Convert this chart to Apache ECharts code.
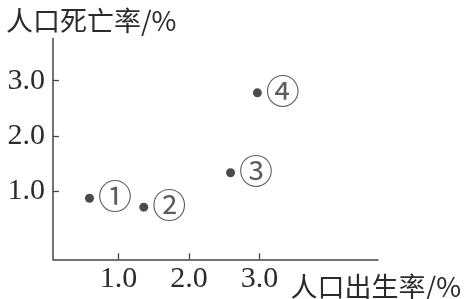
<!DOCTYPE html>
<html>
<head>
<meta charset="utf-8">
<script src="https://cdn.jsdelivr.net/npm/echarts@6/dist/echarts.min.js"></script>
<style>
html,body{margin:0;padding:0;background:#fff;}
#chart{width:470px;height:299px;}
</style>
</head>
<body>
<div id="chart"></div>
<script>
// Data
const pointNames = ['①', '②', '③', '④'];
const birthRate = [0.59, 1.36, 2.59, 2.97];   // x: 人口出生率 /%
const deathRate = [0.88, 0.72, 1.34, 2.78];   // y: 人口死亡率 /%
const xTicks = [1, 2, 3];
const yTicks = [1, 2, 3];
const xTitle = '人口出生率/%';
const yTitle = '人口死亡率/%';

const ink = '#2b2b2b';
const cjk = '"Noto Sans CJK SC", sans-serif';
const serif = '"Liberation Serif", "DejaVu Serif", serif';

const chart = echarts.init(document.getElementById('chart'), null, {renderer: 'canvas'});
chart.setOption({
  backgroundColor: '#ffffff',
  animation: false,
  title: [
    {text: yTitle, left: 1, top: 2, textStyle: {fontFamily: cjk, fontSize: 27, fontWeight: 'normal', color: ink}},
    {text: xTitle, right: 4, top: 268, textStyle: {fontFamily: cjk, fontSize: 27, fontWeight: 'normal', color: ink}}
  ],
  grid: {left: 53, top: 38.5, right: 92, bottom: 39.7, containLabel: false},
  xAxis: {
    type: 'value', min: 0.073, max: 4.68,
    splitLine: {show: false},
    axisLine: {show: true, onZero: false, lineStyle: {color: '#444', width: 1.5}},
    axisTick: {show: true, inside: true, length: 6, customValues: xTicks, lineStyle: {color: '#444', width: 1.3}},
    axisLabel: {customValues: xTicks, formatter: v => v.toFixed(1), fontFamily: serif, fontSize: 30, color: ink, margin: 5}
  },
  yAxis: {
    type: 'value', min: -0.22, max: 3.76,
    splitLine: {show: false},
    axisLine: {show: true, onZero: false, lineStyle: {color: '#444', width: 1.5}},
    axisTick: {show: true, inside: true, length: 6, customValues: yTicks, lineStyle: {color: '#444', width: 1.3}},
    axisLabel: {customValues: yTicks, formatter: v => v.toFixed(1), fontFamily: serif, fontSize: 30, color: ink, margin: 8}
  },
  series: [{
    type: 'scatter',
    symbol: 'circle',
    symbolSize: 9,
    itemStyle: {color: '#1e1e1e'},
    data: birthRate.map((x, i) => ({name: pointNames[i], value: [x, deathRate[i]]})),
    label: {
      show: true, position: 'right', distance: 4, offset: [0, -2],
      formatter: p => p.name,
      fontFamily: cjk, fontSize: 34, color: '#333'
    }
  }]
});
</script>
</body>
</html>
